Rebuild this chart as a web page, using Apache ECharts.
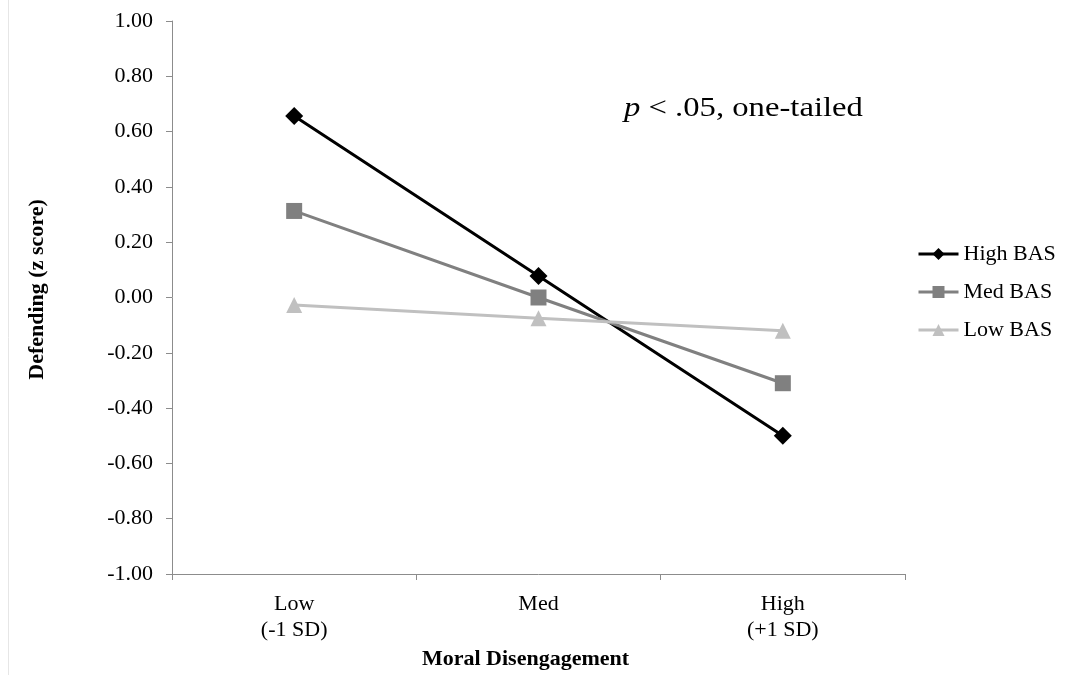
<!DOCTYPE html>
<html>
<head>
<meta charset="utf-8">
<script src="https://cdn.jsdelivr.net/npm/echarts@6/dist/echarts.min.js"></script>
<style>
  html, body { margin: 0; padding: 0; background: #fff; }
  #main { width: 1066px; height: 675px; }
</style>
</head>
<body>
<div id="main"></div>
<script>
  const categories = ['Low\n(-1 SD)', 'Med', 'High\n(+1 SD)']
  const highBAS = [0.656, 0.078, -0.50]
  const medBAS = [0.313, 0.00, -0.31]
  const lowBAS = [-0.027, -0.075, -0.12]

  const serif = '"Liberation Serif", "Times New Roman", serif'
  const axisGrey = '#8c8c8c'

  const chart = echarts.init(document.getElementById('main'))
  chart.setOption({
    animation: false,
    textStyle: { fontFamily: serif },
    grid: { left: 172, top: 21, right: 161, bottom: 101 },
    legend: {
      orient: 'vertical',
      left: 917,
      top: 243,
      padding: 0,
      itemGap: 16,
      itemWidth: 40,
      itemHeight: 15,
      lineStyle: { width: 3 },
      textStyle: { fontFamily: serif, fontSize: 22, color: '#000' },
      data: ['High BAS', 'Med BAS', 'Low BAS']
    },
    xAxis: {
      type: 'category',
      data: categories,
      boundaryGap: true,
      name: 'Moral Disengagement',
      nameLocation: 'middle',
      nameGap: 72,
      nameTextStyle: {
        fontFamily: serif, fontSize: 22, fontWeight: 'bold', color: '#000',
        padding: [0, 26, 0, 0]
      },
      axisLine: { onZero: false, lineStyle: { color: axisGrey, width: 1 } },
      axisTick: { show: true, length: 6, lineStyle: { color: axisGrey } },
      axisLabel: { fontFamily: serif, fontSize: 22, color: '#000', margin: 17, lineHeight: 26 }
    },
    yAxis: {
      type: 'value',
      min: -1,
      max: 1,
      interval: 0.2,
      name: 'Defending (z score)',
      nameLocation: 'middle',
      nameGap: 124,
      nameTextStyle: {
        fontFamily: serif, fontSize: 22, fontWeight: 'bold', color: '#000',
        padding: [0, 0, 0, 16]
      },
      axisLine: { show: true, lineStyle: { color: axisGrey, width: 1 } },
      axisTick: { show: true, length: 6, lineStyle: { color: axisGrey } },
      splitLine: { show: false },
      axisLabel: {
        fontFamily: serif, fontSize: 22, color: '#000', margin: 19,
        formatter: v => v.toFixed(2)
      }
    },
    series: [
      {
        name: 'High BAS', type: 'line', data: highBAS,
        symbol: 'diamond', symbolSize: 18,
        lineStyle: { color: '#000', width: 3 },
        itemStyle: { color: '#000' }
      },
      {
        name: 'Med BAS', type: 'line', data: medBAS,
        symbol: 'rect', symbolSize: 16,
        lineStyle: { color: '#808080', width: 3 },
        itemStyle: { color: '#808080' }
      },
      {
        name: 'Low BAS', type: 'line', data: lowBAS,
        symbol: 'triangle', symbolSize: 16,
        lineStyle: { color: '#c0c0c0', width: 3 },
        itemStyle: { color: '#c0c0c0' }
      }
    ],
    graphic: [
      {
        type: 'text',
        x: 624,
        y: 122,
        scaleX: 1.21,
        style: {
          x: 0,
          y: 0,
          text: '{i|p} < .05, one-tailed',
          font: '27px ' + serif,
          fill: '#000',
          verticalAlign: 'bottom',
          rich: { i: { fontStyle: 'italic', fontSize: 27, fontFamily: serif } }
        }
      },
      {
        type: 'rect',
        shape: { x: 8.5, y: -1, width: 1100, height: 700 },
        style: { fill: 'none', stroke: '#e6e6e6', lineWidth: 1 },
        silent: true
      }
    ]
  })
</script>
</body>
</html>
